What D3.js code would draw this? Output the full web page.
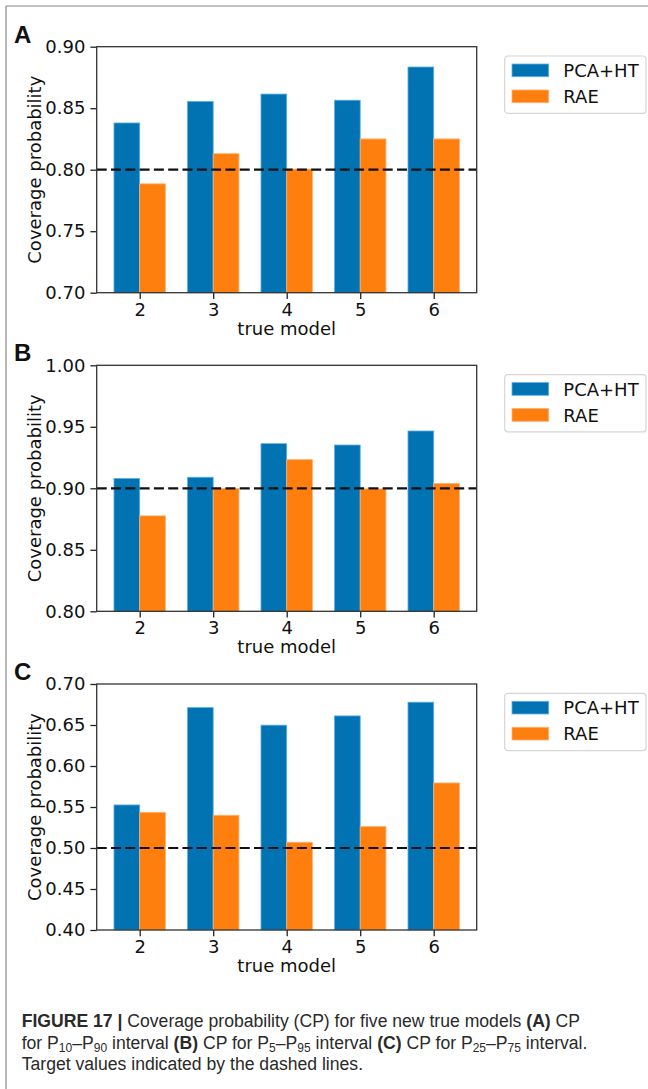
<!DOCTYPE html>
<html lang="en">
    <head>
        <meta charset="utf-8">
        <title>Coverage probability</title>
        <script type="text/javascript" src="https://cdn.jsdelivr.net/npm/d3@7"></script>
        <style>
            body { margin: 0; background: #fff; }
            svg text { font-family: "DejaVu Sans", sans-serif; }
            svg text.cap { font-family: "Liberation Sans", Arial, sans-serif; }
            svg text.letter { font-family: "Liberation Sans", Arial, sans-serif; font-weight: bold; }
        </style>
    </head>
    <body>
        <script type="text/javascript">

            // data
            var models = [2, 3, 4, 5, 6];
            var seriesNames = ["PCA+HT", "RAE"];
            var colors = ["#0173b2", "#ff7f0e"];

            var pcaA = [0.838, 0.8555, 0.8615, 0.8565, 0.8835];
            var raeA = [0.7885, 0.813, 0.8005, 0.825, 0.825];
            var pcaB = [0.908, 0.909, 0.9363, 0.9352, 0.9466];
            var raeB = [0.8776, 0.8998, 0.9233, 0.8995, 0.904];
            var pcaC = [0.5525, 0.6712, 0.6498, 0.6611, 0.6778];
            var raeC = [0.5435, 0.5399, 0.507, 0.5261, 0.5793];

            var yTicksA = [0.70, 0.75, 0.80, 0.85, 0.90];
            var yTicksB = [0.80, 0.85, 0.90, 0.95, 1.00];
            var yTicksC = [0.40, 0.45, 0.50, 0.55, 0.60, 0.65, 0.70];
            var targets = [0.80, 0.90, 0.50];
            var panelLetters = ["A", "B", "C"];

            var w = 648, h = 1089;
            var svg = d3.select("body").append("svg").attr("width", w).attr("height", h);

            // outer frame (top and left rules)
            svg.append("line").attr("x1", 6).attr("x2", w).attr("y1", 6).attr("y2", 6)
                .attr("stroke", "#888").attr("stroke-width", 1.2);
            svg.append("line").attr("x1", 6).attr("x2", 6).attr("y1", 6).attr("y2", h)
                .attr("stroke", "#888").attr("stroke-width", 1.2);

            var axLeft = 96.7, axRight = 476.7, axH = 246;
            var tops = [46.7, 365.3, 684];
            var barW = 0.35;

            var x = d3.scaleLinear().domain([1.415, 6.585]).range([axLeft, axRight]);

            var panels = [
                {pca: pcaA, rae: raeA, ticks: yTicksA},
                {pca: pcaB, rae: raeB, ticks: yTicksB},
                {pca: pcaC, rae: raeC, ticks: yTicksC}
            ];

            panels.forEach(function(p, k) {
                var top = tops[k], bottom = top + axH;
                var y = d3.scaleLinear()
                    .domain([p.ticks[0], p.ticks[p.ticks.length - 1]])
                    .range([bottom, top]);
                var g = svg.append("g");

                // bars, one group per series
                [p.pca, p.rae].forEach(function(vals, s) {
                    g.selectAll("rect.s" + s)
                        .data(vals)
                        .enter()
                        .append("rect")
                        .attr("class", "s" + s)
                        .attr("x", function(d, i) { return x(models[i] - barW + s * barW); })
                        .attr("width", x(barW) - x(0))
                        .attr("y", function(d) { return y(d); })
                        .attr("height", function(d) { return bottom - y(d); })
                        .attr("fill", colors[s])
                        .attr("stroke", s == 0 ? "#5fb0e6" : "#ffb070")
                        .attr("stroke-width", 0.8);
                });

                // target line
                g.append("line")
                    .attr("x1", axLeft).attr("x2", axRight)
                    .attr("y1", y(targets[k])).attr("y2", y(targets[k]))
                    .attr("stroke", "#111").attr("stroke-width", 2.2)
                    .attr("stroke-dasharray", "10,4.3");

                // axes
                var yAxis = d3.axisLeft(y).tickValues(p.ticks).tickFormat(d3.format(".2f"))
                    .tickSize(6.3).tickPadding(5);
                var xAxis = d3.axisBottom(x).tickValues(models).tickFormat(d3.format("d"))
                    .tickSize(6.3).tickPadding(4);

                var ya = g.append("g").attr("transform", "translate(" + axLeft + ",0)").call(yAxis);
                var xa = g.append("g").attr("transform", "translate(0," + bottom + ")").call(xAxis);
                [ya, xa].forEach(function(a) {
                    a.select(".domain").remove();
                    a.selectAll("line").attr("stroke", "#222").attr("stroke-width", 1.3);
                    a.selectAll("text").attr("font-size", "18px").attr("fill", "#111")
                        .attr("font-family", "DejaVu Sans");
                });

                // frame
                g.append("rect")
                    .attr("x", axLeft).attr("y", top)
                    .attr("width", axRight - axLeft).attr("height", axH)
                    .attr("fill", "none").attr("stroke", "#333").attr("stroke-width", 1.3);

                // axis titles
                g.append("text")
                    .attr("transform", "translate(41," + (top + axH / 2) + ") rotate(-90)")
                    .attr("text-anchor", "middle")
                    .attr("font-size", "18px").attr("fill", "#111")
                    .text("Coverage probability");
                g.append("text")
                    .attr("x", (axLeft + axRight) / 2).attr("y", bottom + 42)
                    .attr("text-anchor", "middle")
                    .attr("font-size", "18px").attr("fill", "#111")
                    .text("true model");

                // panel letter
                g.append("text")
                    .attr("class", "letter")
                    .attr("x", 14).attr("y", top - 4)
                    .attr("font-size", "24px")
                    .attr("fill", "#111")
                    .text(panelLetters[k]);

                // legend
                var lg = g.append("g").attr("transform", "translate(504.7," + (top + 9.3) + ")");
                lg.append("rect").attr("width", 141.3).attr("height", 57.3)
                    .attr("rx", 3).attr("fill", "#fff")
                    .attr("stroke", "#d6d6d6").attr("stroke-width", 1.2);
                seriesNames.forEach(function(name, s) {
                    lg.append("rect").attr("x", 7.3).attr("y", 8 + s * 26)
                        .attr("width", 36.7).attr("height", 12.7)
                        .attr("fill", colors[s])
                        .attr("stroke", s == 0 ? "#5fb0e6" : "#ffb070").attr("stroke-width", 0.8);
                    lg.append("text").attr("x", 58.6).attr("y", 21 + s * 26)
                        .attr("font-size", "18px").attr("fill", "#111")
                        .text(name);
                });
            });

            // caption
            var capLines = [
                [["FIGURE 17 | ", "b"], ["Coverage probability (CP) for five new true models ", ""], ["(A)", "b"], [" CP", ""]],
                [["for P", ""], ["10", "s"], ["–P", ""], ["90", "s"], [" interval ", ""], ["(B)", "b"], [" CP for P", ""], ["5", "s"], ["–P", ""], ["95", "s"], [" interval ", ""], ["(C)", "b"], [" CP for P", ""], ["25", "s"], ["–P", ""], ["75", "s"], [" interval.", ""]],
                [["Target values indicated by the dashed lines.", ""]]
            ];
            var capBase = [1026.7, 1048.7, 1070.3];
            capLines.forEach(function(line, li) {
                var t = svg.append("text").attr("class", "cap")
                    .attr("x", 21.7).attr("y", capBase[li])
                    .attr("font-size", "17.6px").attr("fill", "#2a2a2a")
                    .attr("xml:space", "preserve");
                var prevSub = false;
                line.forEach(function(seg) {
                    var ts = t.append("tspan").text(seg[0]);
                    if (seg[1] == "b") ts.attr("font-weight", "bold");
                    if (seg[1] == "s") {
                        ts.attr("font-size", "12px").attr("dy", 3.5);
                        prevSub = true;
                    } else if (prevSub) {
                        ts.attr("dy", -3.5);
                        prevSub = false;
                    }
                });
            });

        </script>
    </body>
</html>
